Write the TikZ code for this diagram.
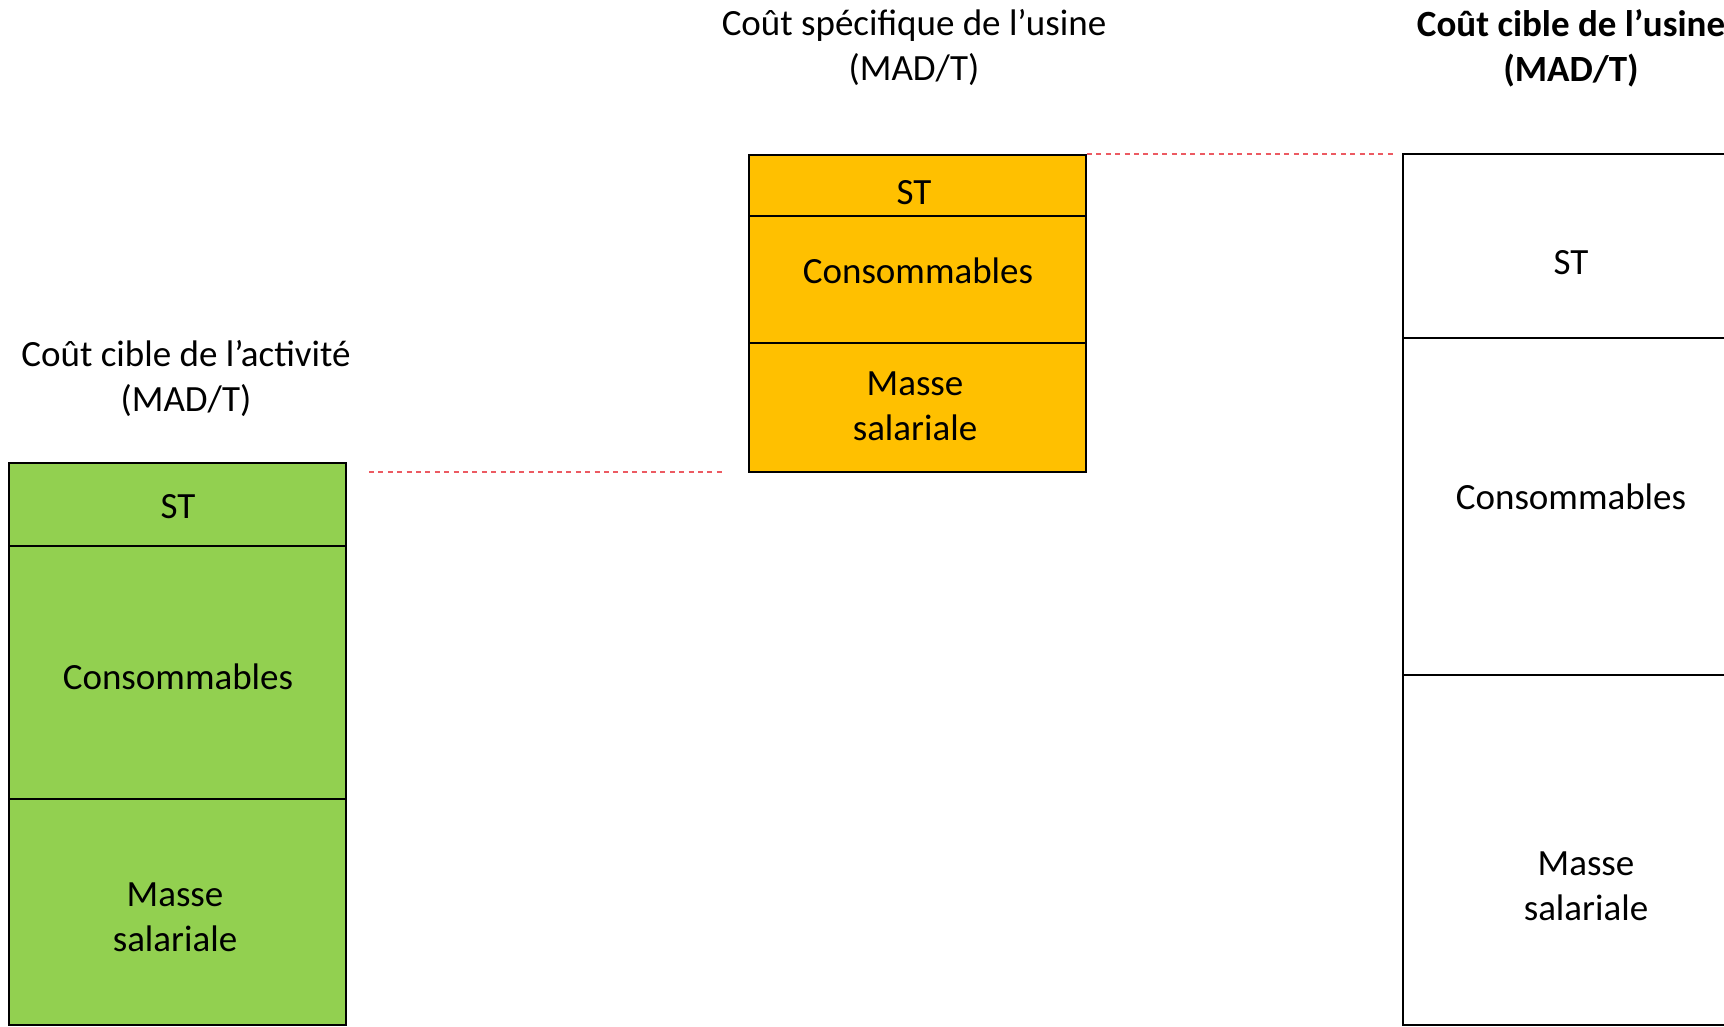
\documentclass[tikz,border=0pt]{standalone}
\usepackage{fontspec}
\setmainfont{Carlito}
\begin{document}
\begin{tikzpicture}[x=1pt,y=-1pt,
  seg/.style={draw=black,line width=2pt,rectangle,inner sep=0pt,minimum width=337pt},
  greenseg/.style={seg,fill=boxgreen},
  orangeseg/.style={seg,fill=boxorange},
  whiteseg/.style={seg,fill=white},
  lbl/.style={font=\fontsize{37}{45}\selectfont,align=center,inner sep=0pt,text=black},
  ttl/.style={font=\fontsize{37}{45}\selectfont,align=center,inner sep=0pt,text=black},
  guide/.style={draw=guidered,line width=1.3pt,dash pattern=on 5pt off 4.4pt}]
\definecolor{boxgreen}{HTML}{92D050}
\definecolor{boxorange}{HTML}{FFC000}
\definecolor{guidered}{HTML}{EC5A62}
\useasboundingbox (0,0) rectangle (1724,1027);
\clip (0,0) rectangle (1724,1027);
\fill[white] (0,0) rectangle (1724,1027);

% titles
\node[ttl] (t1) at (186,379) {Coût cible de l’activité\\(MAD/T)};
\node[ttl] (t2) at (914,48) {Coût spécifique de l’usine\\(MAD/T)};
\node[ttl,font=\fontsize{37}{45}\selectfont\bfseries] (t3) at (1571,48) {Coût cible de l’usine\\(MAD/T)};

% green stack
\node[greenseg,minimum height=83pt] (g1) at (177.5,504.5) {};
\node[greenseg,minimum height=253pt] (g2) at (177.5,672.5) {};
\node[greenseg,minimum height=226pt] (g3) at (177.5,912) {};
\node[lbl] (g1t) at (178,507) {ST};
\node[lbl] (g2t) at (178,677) {Consommables};
\node[lbl] (g3t) at (175,917) {Masse\\salariale};

% orange stack
\node[orangeseg,minimum height=61pt] (o1) at (917.5,185.5) {};
\node[orangeseg,minimum height=127pt] (o2) at (917.5,279.5) {};
\node[orangeseg,minimum height=129pt] (o3) at (917.5,407.5) {};
\node[lbl] (o1t) at (914,193) {ST};
\node[lbl] (o2t) at (918,271) {Consommables};
\node[lbl] (o3t) at (915,406.5) {Masse\\salariale};

% white stack
\node[whiteseg,minimum height=184pt] (w1) at (1571.5,246) {};
\node[whiteseg,minimum height=337pt] (w2) at (1571.5,506.5) {};
\node[whiteseg,minimum height=350pt] (w3) at (1571.5,850) {};
\node[lbl] (w1t) at (1571,263) {ST};
\node[lbl] (w2t) at (1571,497) {Consommables};
\node[lbl] (w3t) at (1586,886) {Masse\\salariale};

% dashed guides
\coordinate (d1a) at (369,472);
\coordinate (d1b) at (726,472);
\coordinate (d2b) at (1394,154);
\draw[guide] (d1a) -- (d1b);
\draw[guide] (o1.north east) -- (d2b);
\end{tikzpicture}
\end{document}
